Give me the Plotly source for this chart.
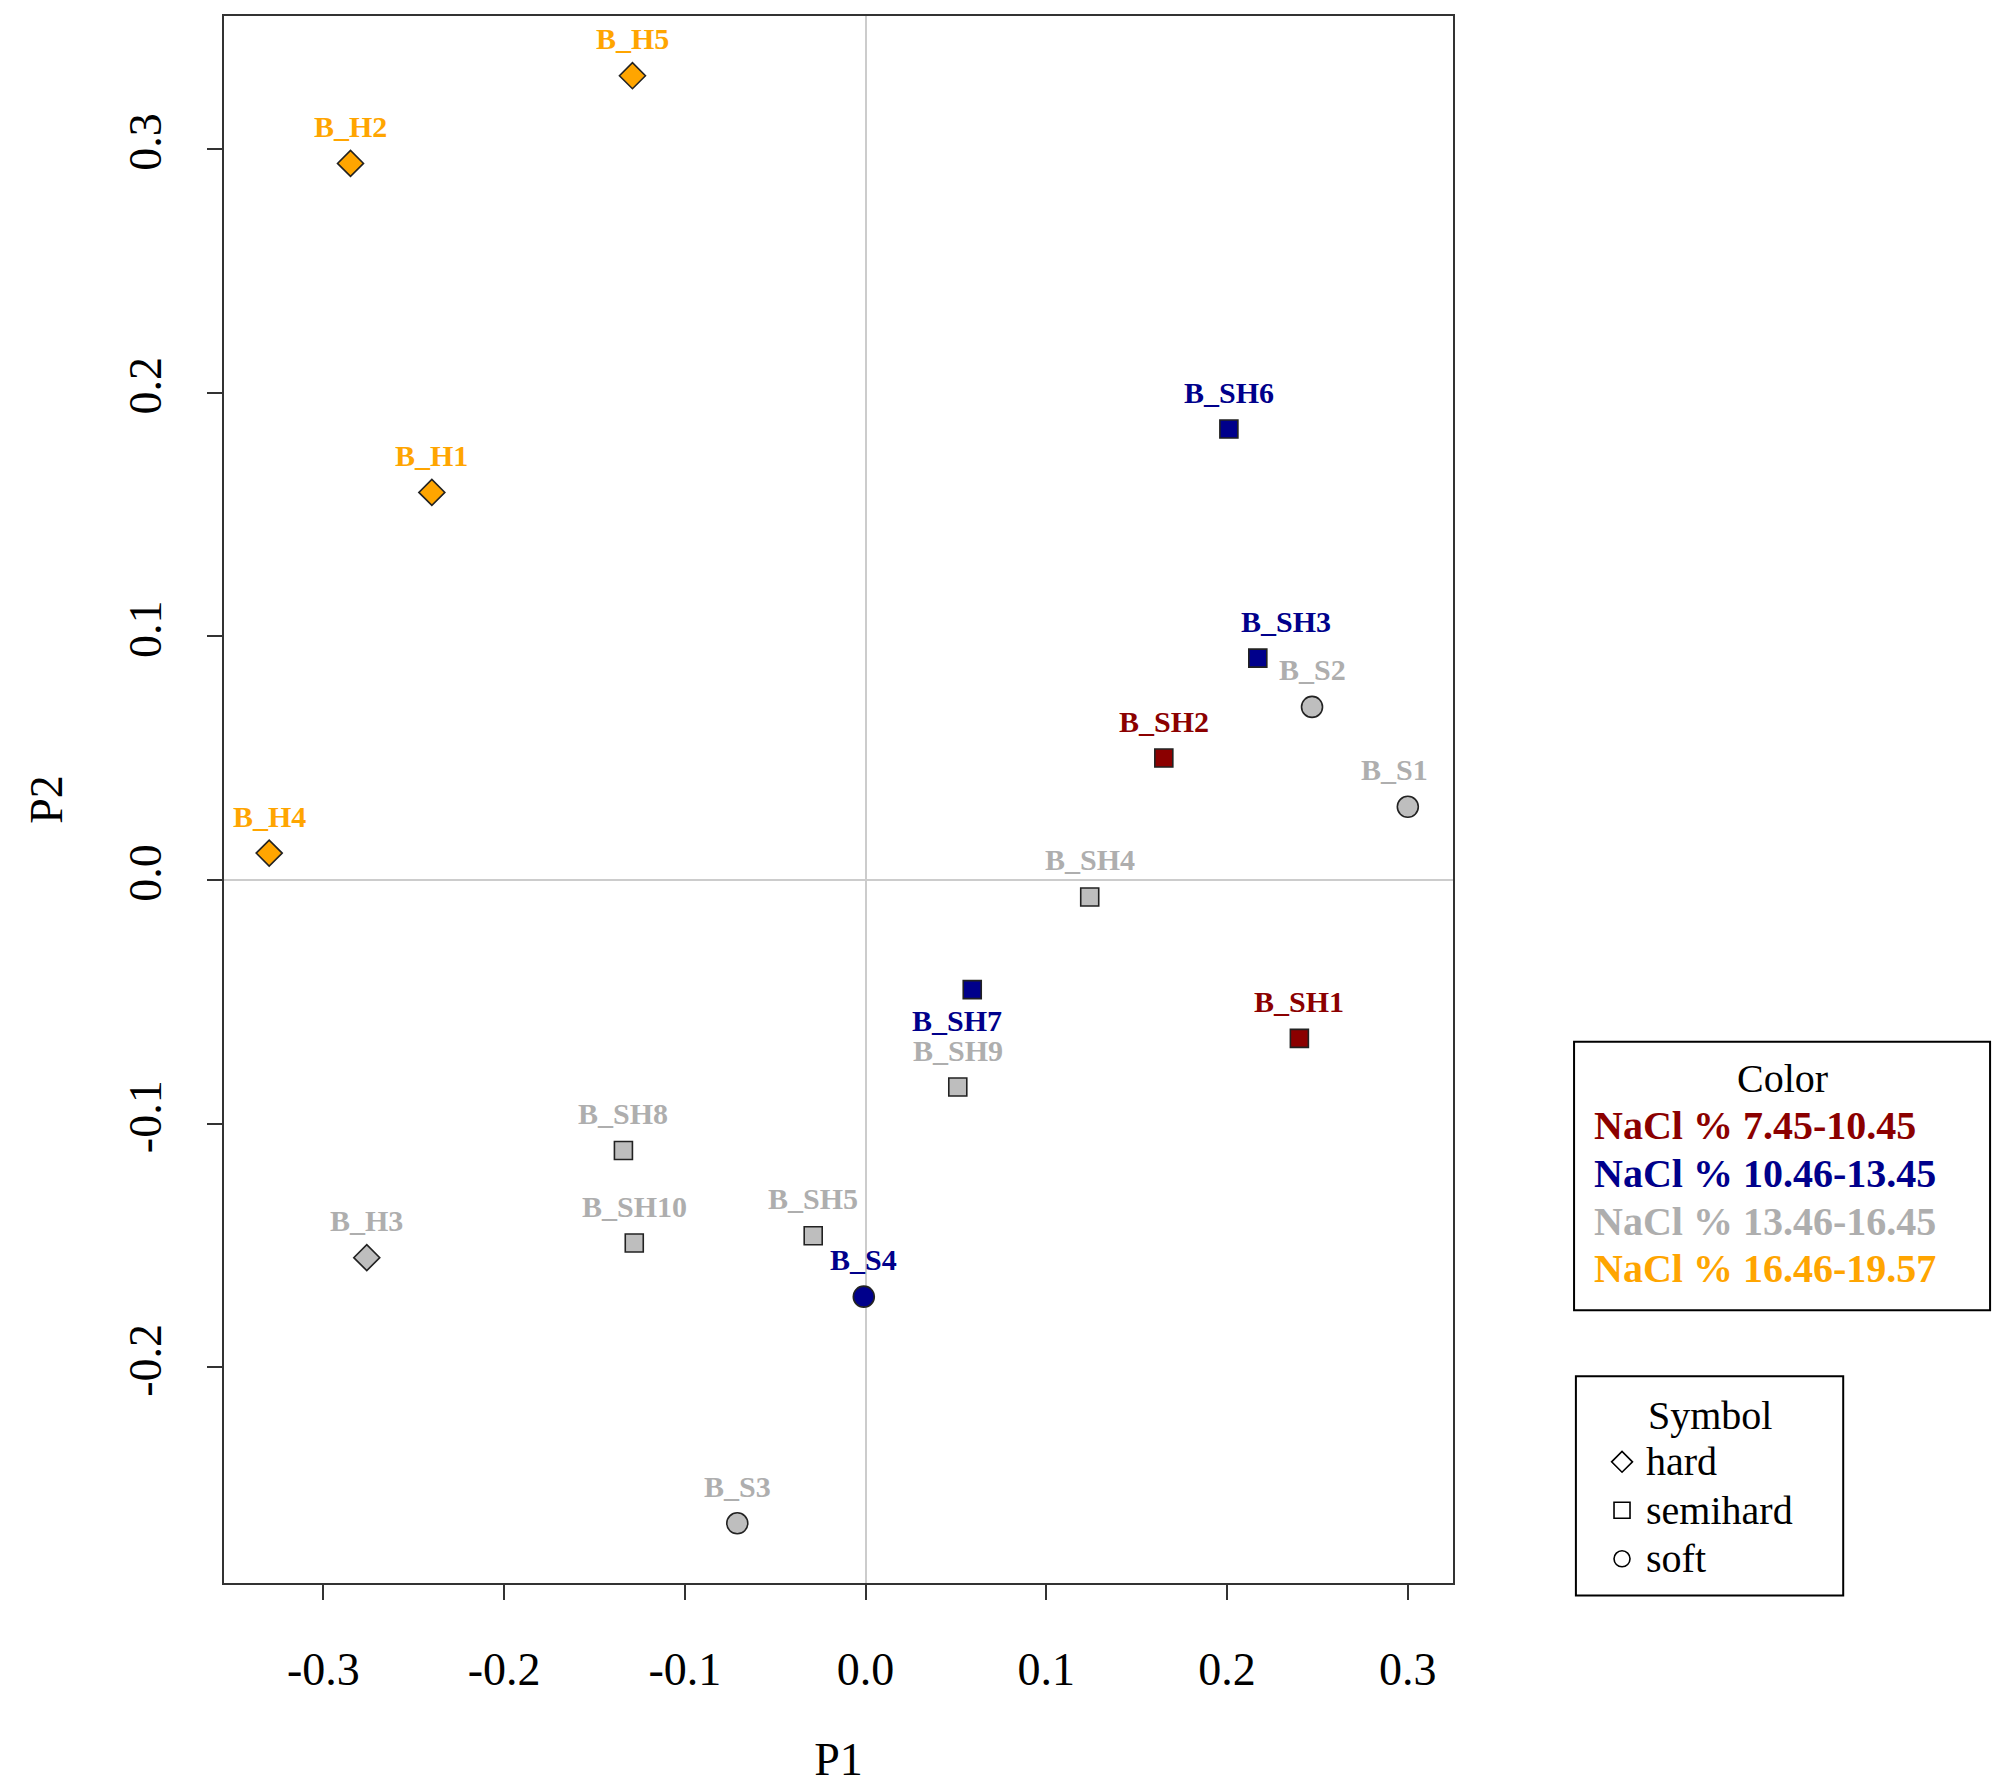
import plotly.graph_objects as go

# Data
samples = ["B_H5", "B_H2", "B_H1", "B_H4", "B_SH6", "B_SH3", "B_S2", "B_SH2",
           "B_S1", "B_SH4", "B_SH7", "B_SH1", "B_SH9", "B_SH8", "B_H3",
           "B_SH10", "B_SH5", "B_S4", "B_S3"]
p1 = [-0.129, -0.285, -0.240, -0.330, 0.201, 0.217, 0.247, 0.165,
      0.300, 0.124, 0.059, 0.240, 0.051, -0.134, -0.276,
      -0.128, -0.029, -0.001, -0.071]
p2 = [0.330, 0.294, 0.159, 0.011, 0.185, 0.091, 0.071, 0.050,
      0.030, -0.007, -0.045, -0.065, -0.085, -0.111, -0.155,
      -0.149, -0.146, -0.171, -0.264]
nacl = ["16.46-19.57", "16.46-19.57", "16.46-19.57", "16.46-19.57",
        "10.46-13.45", "10.46-13.45", "13.46-16.45", "7.45-10.45",
        "13.46-16.45", "13.46-16.45", "10.46-13.45", "7.45-10.45",
        "13.46-16.45", "13.46-16.45", "13.46-16.45",
        "13.46-16.45", "13.46-16.45", "10.46-13.45", "13.46-16.45"]
texture = ["hard", "hard", "hard", "hard", "semihard", "semihard", "soft",
           "semihard", "soft", "semihard", "semihard", "semihard", "semihard",
           "semihard", "hard", "semihard", "semihard", "soft", "soft"]

nacl_groups = ["7.45-10.45", "10.46-13.45", "13.46-16.45", "16.46-19.57"]
textures = ["hard", "semihard", "soft"]

# styles
fill_col = {"7.45-10.45": "#8B0000", "10.46-13.45": "#00008B",
            "13.46-16.45": "#BEBEBE", "16.46-19.57": "#FFA500"}
text_col = {"7.45-10.45": "#8B0000", "10.46-13.45": "#00008B",
            "13.46-16.45": "#AEAEAE", "16.46-19.57": "#FFA500"}
sym = {"hard": "diamond", "semihard": "square", "soft": "circle"}
msize = {"hard": 20, "semihard": 18, "soft": 21}
# a few labels sit off-centre in the original
nudge = {"B_SH3": (28, 37), "B_S1": (-13, 37), "B_SH7": (-15, -31)}

serif = "Liberation Serif"

fig = go.Figure()

for t in textures:
    idx = [i for i in range(len(samples)) if texture[i] == t]
    fig.add_trace(go.Scatter(
        x=[p1[i] for i in idx], y=[p2[i] for i in idx],
        mode="markers", showlegend=False, hoverinfo="text",
        text=[samples[i] for i in idx],
        marker=dict(symbol=sym[t], size=msize[t],
                    color=[fill_col[nacl[i]] for i in idx],
                    line=dict(color="#222222", width=1.6))))

# symbol legend entries (bigger text than the legend font keeps rows tight)
for t in textures:
    fig.add_trace(go.Scatter(
        x=[None], y=[None], mode="markers",
        name="<span style='font-size:40px'>" + t + "</span>",
        marker=dict(symbol=sym[t] + "-open", size=22, color="black",
                    line=dict(width=1.6))))

# point labels
for i, s in enumerate(samples):
    dx, dy = nudge.get(s, (0, 37))
    fig.add_annotation(x=p1[i], y=p2[i], text="<b>" + s + "</b>",
                       showarrow=False, xshift=dx, yshift=dy,
                       font=dict(family=serif, size=30, color=text_col[nacl[i]]))

# color legend box
fig.add_shape(type="rect", xref="paper", yref="paper",
              x0=1.0985, x1=1.437, y0=0.174, y1=0.3454,
              line=dict(color="black", width=2), fillcolor="white")
fig.add_annotation(xref="paper", yref="paper", x=1.268, y=0.322,
                   xanchor="center", yanchor="middle",
                   text="Color", showarrow=False,
                   font=dict(family=serif, size=40, color="black"))
for k, g in enumerate(nacl_groups):
    fig.add_annotation(xref="paper", yref="paper", x=1.113, y=0.292 - k * 0.0305,
                       xanchor="left", yanchor="middle",
                       text="<b>NaCl % " + g + "</b>", showarrow=False,
                       font=dict(family=serif, size=40, color=text_col[g]))

# symbol legend box
fig.add_shape(type="rect", xref="paper", yref="paper",
              x0=1.1, x1=1.3175, y0=-0.008, y1=0.132,
              line=dict(color="black", width=2), fillcolor="white")
fig.add_annotation(xref="paper", yref="paper", x=1.209, y=0.107,
                   xanchor="center", yanchor="middle",
                   text="Symbol", showarrow=False,
                   font=dict(family=serif, size=40, color="black"))

fig.update_layout(
    width=2000, height=1784,
    margin=dict(l=216, r=555, t=6, b=209),
    plot_bgcolor="white", paper_bgcolor="white",
    font=dict(family=serif, color="black"),
    showlegend=True,
    legend=dict(x=1.118, y=0.096, xanchor="left", yanchor="top",
                borderwidth=0, bgcolor="rgba(0,0,0,0)",
                font=dict(family=serif, size=35), itemwidth=38,
                itemsizing="trace", tracegroupgap=0),
)

fig.update_xaxes(range=[-0.355, 0.325], tickvals=[-0.3, -0.2, -0.1, 0.0, 0.1, 0.2, 0.3],
                 ticktext=["-0.3", "-0.2", "-0.1", "0.0", "0.1", "0.2", "0.3"],
                 showgrid=False, zeroline=True, zerolinecolor="#CCCCCC", zerolinewidth=2,
                 showline=True, mirror=True, linecolor="#333333", linewidth=2,
                 ticks="outside", ticklen=15, tickwidth=2, tickcolor="#333333",
                 tickfont=dict(family=serif, size=46), ticklabelstandoff=30,
                 title=dict(text="P1", font=dict(family=serif, size=46), standoff=49))
fig.update_yaxes(range=[-0.2885, 0.3545], tickvals=[-0.2, -0.1, 0.0, 0.1, 0.2, 0.3],
                 ticktext=["-0.2", "-0.1", "0.0", "0.1", "0.2", "0.3"],
                 showgrid=False, zeroline=True, zerolinecolor="#CCCCCC", zerolinewidth=2,
                 showline=True, mirror=True, linecolor="#333333", linewidth=2,
                 ticks="outside", ticklen=15, tickwidth=2, tickcolor="#333333",
                 tickangle=-90, tickfont=dict(family=serif, size=46), ticklabelstandoff=28,
                 title=dict(text="P2", font=dict(family=serif, size=46), standoff=42))

fig.write_html("out.html")
